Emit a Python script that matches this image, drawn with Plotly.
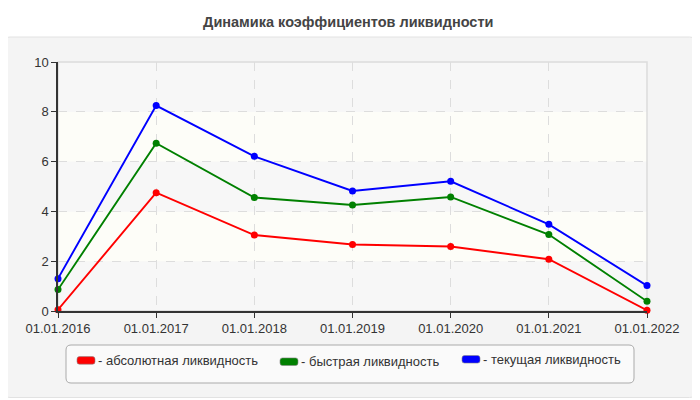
import plotly.graph_objects as go

dates = ["01.01.2016", "01.01.2017", "01.01.2018", "01.01.2019", "01.01.2020", "01.01.2021", "01.01.2022"]
absolute = [0.05, 4.75, 3.05, 2.67, 2.59, 2.08, 0.03]
quick = [0.86, 6.74, 4.56, 4.26, 4.58, 3.07, 0.39]
current = [1.30, 8.25, 6.21, 4.82, 5.21, 3.48, 1.02]
series_names = ["абсолютная ликвидность", "быстрая ликвидность", "текущая ликвидность"]
series_colors = ["#ff0000", "#008000", "#0000ff"]
y_ticks = [0, 2, 4, 6, 8, 10]

# page renders the figure with an 8px body margin; compensate
OFF = 8
W, H = 700 - OFF, 400 - OFF
L, R, T, B = 58 - OFF, 647 - OFF, 62 - OFF, 311 - OFF


def px_x(px):
    return (px - OFF - L) / (R - L)


def px_y(py):
    return (B - (py - OFF)) / (B - T)


def rounded_rect(x0, y0, x1, y1, r):
    X = px_x
    Y = px_y
    return (
        f"M {X(x0 + r)},{Y(y0)} L {X(x1 - r)},{Y(y0)} Q {X(x1)},{Y(y0)} {X(x1)},{Y(y0 + r)} "
        f"L {X(x1)},{Y(y1 - r)} Q {X(x1)},{Y(y1)} {X(x1 - r)},{Y(y1)} "
        f"L {X(x0 + r)},{Y(y1)} Q {X(x0)},{Y(y1)} {X(x0)},{Y(y1 - r)} "
        f"L {X(x0)},{Y(y0 + r)} Q {X(x0)},{Y(y0)} {X(x0 + r)},{Y(y0)} Z"
    )


fig = go.Figure()
for vals, name, col in zip([absolute, quick, current], series_names, series_colors):
    fig.add_trace(go.Scatter(
        x=dates, y=vals, mode="lines+markers", name=name,
        line=dict(color=col, width=1.9),
        marker=dict(color=col, size=7),
        showlegend=False, cliponaxis=False,
    ))

shapes = []
# outer panel
shapes.append(dict(type="path", xref="paper", yref="paper", layer="below",
                   path=rounded_rect(1, 37, 698.5, 397.5, 9),
                   fillcolor="#f4f4f4", line=dict(color="#e2e2e2", width=1)))
# plot area background bands
for i in range(5):
    shapes.append(dict(type="rect", xref="paper", yref="y", layer="below",
                       x0=0, x1=1, y0=y_ticks[i], y1=y_ticks[i + 1],
                       fillcolor="#f7f7f7" if i % 2 == 0 else "#fdfdf8",
                       line=dict(width=0)))
# plot border
shapes.append(dict(type="rect", xref="paper", yref="paper", layer="below",
                   x0=0, x1=1, y0=0, y1=1, fillcolor="rgba(0,0,0,0)",
                   line=dict(color="#dcdcdc", width=1.5)))
# legend box
shapes.append(dict(type="path", xref="paper", yref="paper", layer="above",
                   path=rounded_rect(66, 345, 634, 383, 5),
                   fillcolor="#fafafa", line=dict(color="#aaaaaa", width=1)))

annotations = []
swatch_x = [77, 280, 462]
swatch_y = [360.4, 361.7, 359.3]
for sx, sy, name, col in zip(swatch_x, swatch_y, series_names, series_colors):
    shapes.append(dict(type="path", xref="paper", yref="paper", layer="above",
                       path=rounded_rect(sx, sy - 3.8, sx + 18, sy + 3.8, 2.5),
                       fillcolor=col, line=dict(color="#888888", width=0.6)))
    annotations.append(dict(xref="paper", yref="paper", x=px_x(sx + 19), y=px_y(sy),
                            xanchor="left", yanchor="middle", showarrow=False,
                            text="- " + name,
                            font=dict(family="Liberation Sans, Arial", size=13, color="#333333")))

fig.update_layout(
    width=W, height=H,
    margin=dict(l=L, r=W - R, t=T, b=H - B, pad=0),
    paper_bgcolor="#ffffff",
    plot_bgcolor="rgba(0,0,0,0)",
    title=dict(text="Динамика коэффициентов ликвидности", x=px_x(349) * (R - L) / W + L / W,
               xanchor="center", xref="paper",
               y=1 - (21.5 - OFF) / H, yref="container", yanchor="middle",
               font=dict(family="Liberation Sans, Arial", size=14.5, color="#444444", weight="bold")),
    shapes=shapes,
    annotations=annotations,
    xaxis=dict(type="category", range=[0, len(dates) - 1],
               showgrid=True, gridcolor="#dddddd", griddash="dash", gridwidth=1,
               showline=True, linecolor="#333333", linewidth=1.5,
               ticks="outside", ticklen=5, tickcolor="#333333",
               tickfont=dict(family="Liberation Sans, Arial", size=13, color="#333333"),
               zeroline=False),
    yaxis=dict(range=[0, 10], tickvals=y_ticks,
               showgrid=True, gridcolor="#dddddd", griddash="dash", gridwidth=1,
               showline=True, linecolor="#333333", linewidth=1.5,
               ticks="outside", ticklen=5, tickcolor="#333333",
               tickfont=dict(family="Liberation Sans, Arial", size=13, color="#333333"),
               zeroline=False),
    font=dict(family="Liberation Sans, Arial"),
)

fig.write_html("out.html")
